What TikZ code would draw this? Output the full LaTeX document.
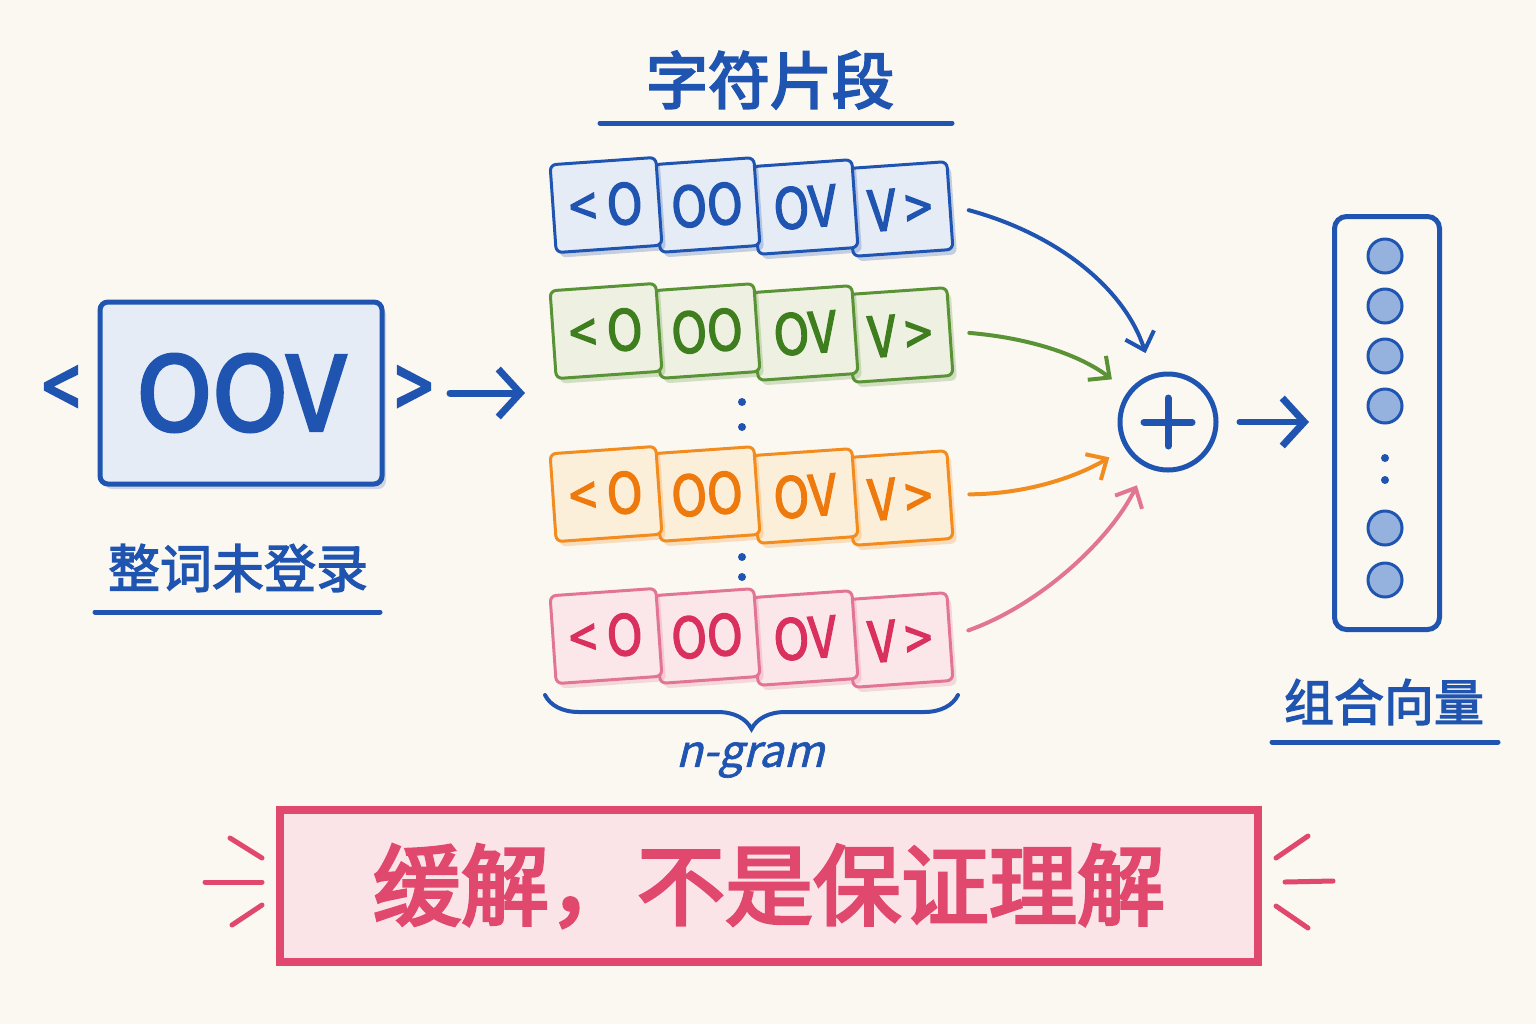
\documentclass[tikz,border=0pt]{standalone}
\usepackage{fontspec}
\setmainfont{Noto Sans CJK SC}
\newfontfamily\medfont[FakeBold=2.5]{Noto Sans CJK SC}
\newfontfamily\heavyfont[FakeBold=3.5]{Noto Sans CJK SC}
\newfontfamily\chevfont[FakeStretch=0.75,FakeBold=3]{Noto Sans CJK SC}
\newfontfamily\tilefont[FakeStretch=0.86,FakeBold=2.5]{Noto Sans CJK SC}
\newfontfamily\slfont[FakeSlant=0.25,FakeBold=1.5]{Noto Sans CJK SC}
\usetikzlibrary{arrows.meta,shadows,decorations.pathreplacing,calc}
\definecolor{bg}{HTML}{FBF8F2}
\definecolor{cB}{HTML}{1F54B0}
\definecolor{cBf}{HTML}{E6ECF6}
\definecolor{cBd}{HTML}{95B2DF}
\definecolor{cG}{HTML}{5A9236}
\definecolor{cGt}{HTML}{3F7E1E}
\definecolor{cGf}{HTML}{EEF1E2}
\definecolor{cO}{HTML}{F28C1E}
\definecolor{cOt}{HTML}{EE7A0E}
\definecolor{cOf}{HTML}{FCEFDA}
\definecolor{cP}{HTML}{E27593}
\definecolor{cPt}{HTML}{D9305E}
\definecolor{cPf}{HTML}{FBE6EA}
\definecolor{cR}{HTML}{E0486E}
\definecolor{cRf}{HTML}{FBE4E8}
\tikzset{
  tilebase/.style={rectangle, rounded corners=3pt, line width=1.5pt, minimum width=50pt,
    minimum height=44pt, rotate=4, inner sep=0pt,
    font=\tilefont\fontsize{28pt}{28pt}\selectfont},
  tileB/.style={tilebase, draw=cB, fill=cBf, text=cB, drop shadow={shadow xshift=2pt, shadow yshift=-2.5pt, fill=cB, opacity=0.25}},
  tileG/.style={tilebase, draw=cG, fill=cGf, text=cGt, drop shadow={shadow xshift=2pt, shadow yshift=-2.5pt, fill=cG, opacity=0.25}},
  tileO/.style={tilebase, draw=cO, fill=cOf, text=cOt, drop shadow={shadow xshift=2pt, shadow yshift=-2.5pt, fill=cO, opacity=0.25}},
  tileP/.style={tilebase, draw=cP, fill=cPf, text=cPt, drop shadow={shadow xshift=2pt, shadow yshift=-2.5pt, fill=cP, opacity=0.25}},
  uline/.style={draw=cB, line width=2.5pt, line cap=round},
  lab/.style={text=cB, font=\medfont\fontsize{26pt}{26pt}\selectfont},
  chev/.style={text=cB, font=\chevfont\fontsize{44pt}{44pt}\selectfont},
  curvearr/.style={line width=2pt, line cap=round, -{Straight Barb[length=8pt,width=15pt,line width=2pt]}},
  bigarr/.style={draw=cB, line width=3.5pt, line cap=round, -{Straight Barb[length=11pt,width=24pt,line width=3.5pt]}},
  dotm/.style={fill=cB},
  spark/.style={draw=cR, line width=2.5pt, line cap=round},
}
\begin{document}
\begin{tikzpicture}[x=0.5pt,y=-0.5pt]
\fill[bg] (0,0) rectangle (1536,1024);
\useasboundingbox (0,0) rectangle (1536,1024);

% title
\node[text=cB, font=\heavyfont\fontsize{31pt}{31pt}\selectfont] (title) at (770,80) {字符片段};
\draw[uline] (600,123) -- (952,123);

% OOV word
\node[draw=cB, fill=cBf, line width=2.5pt, rounded corners=4pt, minimum width=141pt, minimum height=91pt,
  text=cB, font=\heavyfont\fontsize{51pt}{51pt}\selectfont,
  drop shadow={shadow xshift=2pt, shadow yshift=-2.5pt, fill=cB, opacity=0.2}] (oov) at (241,393) {OOV};
\node[chev] (lt) at (61,393) {<};
\node[chev] (gt) at (414,393) {>};
\node[lab] (wlab) at (238,568) {整词未登录};
\draw[uline] (95,612) -- (380,612);

\coordinate (a1) at (450,393);
\coordinate (a2) at (525,393);
\draw[bigarr] (a1) -- (a2);

% tiles
\foreach \r/\y/\st in {b/205/tileB, g/331/tileG, o/494/tileO, p/636/tileP} {
  \node[\st] (\r4) at (900,\y+4) {V\,>};
  \node[\st] (\r3) at (805,\y+2) {OV};
  \node[\st] (\r2) at (707,\y) {OO};
  \node[\st, minimum width=53pt] (\r1) at (606,\y) {< O};
}

% vertical dots
\fill[dotm] (742,402) circle (4);
\fill[dotm] (742,427) circle (4);
\fill[dotm] (742,557) circle (4);
\fill[dotm] (742,577) circle (4);

% brace
\draw[draw=cB, line width=2pt, line cap=round, decorate, decoration={brace, mirror, amplitude=17pt}] (545,695) -- (958,695);
\node[text=cB, font=\slfont\fontsize{22pt}{22pt}\selectfont] (ngram) at (750,760) {n-gram};

% plus
\node[circle, draw=cB, line width=2.5pt, minimum size=48pt, inner sep=0pt] (plus) at (1168,422) {};
\draw[cB, line width=3.5pt, line cap=round] ($(plus.center)+(0,-24)$) -- ($(plus.center)+(0,24)$);
\draw[cB, line width=3.5pt, line cap=round] ($(plus.center)+(-24,0)$) -- ($(plus.center)+(24,0)$);

% curved arrows
\draw[curvearr, cB, shorten <=9pt, shorten >=11pt] (b4.east) .. controls (1060,235) and (1125,290) .. (plus);
\draw[curvearr, cG, shorten <=9pt, shorten >=10pt] (g4.east) .. controls (1030,338) and (1080,355) .. (plus);
\draw[curvearr, cO, shorten <=9pt, shorten >=9pt] (o4.east) .. controls (1030,494) and (1080,475) .. (plus);
\draw[curvearr, cP, shorten <=9pt, shorten >=10pt] (p4.east) .. controls (1040,605) and (1110,540) .. (plus);

% vector
\node[draw=cB, line width=2.5pt, rounded corners=6pt, minimum width=52.5pt, minimum height=206.5pt] (vec) at (1387,423) {};
\foreach \yy in {256,306,356,406,528,580} {
  \draw[cB, fill=cBd, line width=1.5pt] (1385,\yy) circle (17);
}
\fill[dotm] (1385,458) circle (4);
\fill[dotm] (1385,480) circle (4);
\draw[bigarr, line width=3pt, shorten <=10.5pt, shorten >=11.5pt] (plus.east) -- (plus.east -| vec.west);
\node[lab, font=\medfont\fontsize{25pt}{25pt}\selectfont] (vlab) at (1384,702) {组合向量};
\draw[uline] (1272,742) -- (1498,742);

% banner
\node[draw=cR, fill=cRf, line width=4pt, minimum width=489pt, minimum height=76pt, text=cR,
  font=\heavyfont\fontsize{44pt}{44pt}\selectfont] (banner) at (769,886) {缓解，不是保证理解};
\draw[spark] (230,838) -- (262,858);
\draw[spark] (205,882) -- (262,882);
\draw[spark] (232,925) -- (262,905);
\draw[spark] (1308,836) -- (1276,858);
\draw[spark] (1333,881) -- (1285,882);
\draw[spark] (1308,928) -- (1276,906);
\end{tikzpicture}
\end{document}
